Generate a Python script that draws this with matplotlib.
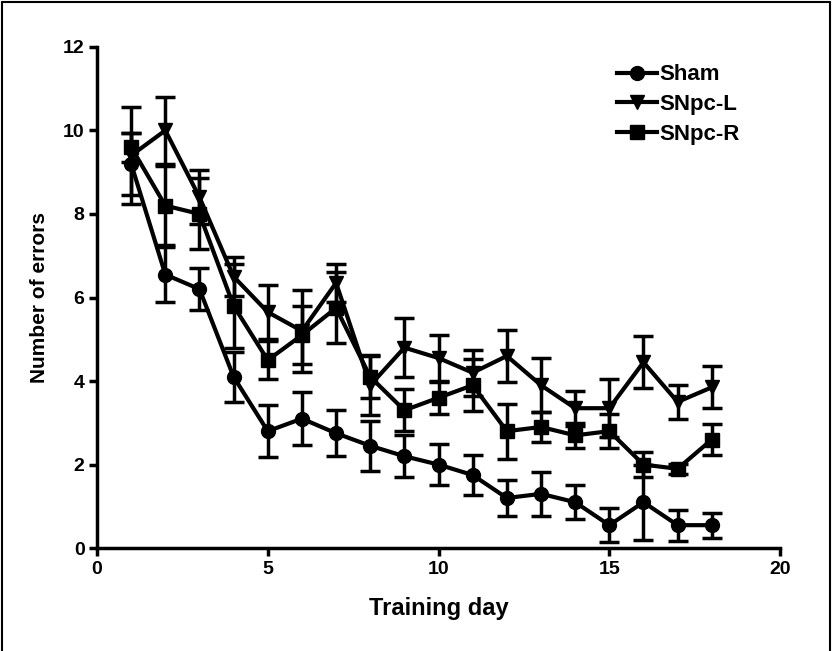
import matplotlib.pyplot as plt
from matplotlib.patches import Rectangle

# Data
days = list(range(1, 19))

sham = [9.2, 6.55, 6.2, 4.1, 2.8, 3.1, 2.75, 2.45, 2.2, 2.0, 1.75, 1.2, 1.3, 1.1, 0.55, 1.1, 0.55, 0.55]
sham_sem = [0.75, 0.65, 0.5, 0.6, 0.62, 0.63, 0.55, 0.6, 0.5, 0.5, 0.47, 0.43, 0.52, 0.4, 0.4, 0.9, 0.37, 0.3]

snpc_l = [9.4, 10.0, 8.4, 6.5, 5.65, 5.2, 6.35, 3.9, 4.8, 4.55, 4.2, 4.6, 3.9, 3.35, 3.35, 4.45, 3.5, 3.85]
snpc_l_sem = [1.15, 0.8, 0.65, 0.47, 0.65, 0.98, 0.45, 0.72, 0.7, 0.55, 0.55, 0.62, 0.65, 0.42, 0.7, 0.62, 0.4, 0.5]

snpc_r = [9.6, 8.2, 8.0, 5.8, 4.5, 5.1, 5.75, 4.1, 3.3, 3.6, 3.9, 2.8, 2.9, 2.7, 2.8, 2.0, 1.9, 2.6]
snpc_r_sem = [0.35, 0.95, 0.85, 1.0, 0.45, 0.7, 0.85, 0.5, 0.5, 0.38, 0.62, 0.66, 0.35, 0.3, 0.4, 0.3, 0.12, 0.36]

labels = ['Sham', 'SNpc-L', 'SNpc-R']
markers = ['o', 'v', 's']

plt.rcParams['font.family'] = ['Liberation Sans', 'DejaVu Sans']
plt.rcParams['font.weight'] = 'bold'

fig = plt.figure(figsize=(8.32, 6.51), dpi=100)
ax = fig.add_axes([0.1166, 0.158, 0.821, 0.77])

series = [(sham, sham_sem), (snpc_l, snpc_l_sem), (snpc_r, snpc_r_sem)]
for (vals, sem), lab, mk in zip(series, labels, markers):
    ax.errorbar(days, vals, yerr=sem, color='black', lw=3, marker=mk,
                markersize=10, elinewidth=2.5, capsize=7, capthick=2.5,
                label=lab)

ax.set_xlim(0, 20)
ax.set_ylim(0, 12)
ax.set_xticks([0, 5, 10, 15, 20])
ax.set_yticks([0, 2, 4, 6, 8, 10, 12])
for s in ['top', 'right']:
    ax.spines[s].set_visible(False)
for s in ['left', 'bottom']:
    ax.spines[s].set_linewidth(2.5)
ax.tick_params(width=2.5, length=6, labelsize=14, pad=3)
for t in ax.get_xticklabels() + ax.get_yticklabels():
    t.set_fontweight('bold')

ax.set_xlabel('Training day', fontsize=17, fontweight='bold', labelpad=14)
ax.set_ylabel('Number of errors', fontsize=15, fontweight='bold', labelpad=10)

# legend without error bars
handles, labs = ax.get_legend_handles_labels()
leg = ax.legend([h[0] for h in handles], labs, loc='upper right',
                bbox_to_anchor=(0.97, 1.005), frameon=False,
                prop={'size': 16, 'weight': 'bold'}, handlelength=1.8,
                handletextpad=0.1, labelspacing=0.4)

# outer frame of the picture
fig.patches.append(Rectangle((0.003, -0.02), 0.994, 1.017, transform=fig.transFigure,
                             fill=False, edgecolor='black', lw=1.5))

fig.savefig('out.png', dpi=100, facecolor='white')
